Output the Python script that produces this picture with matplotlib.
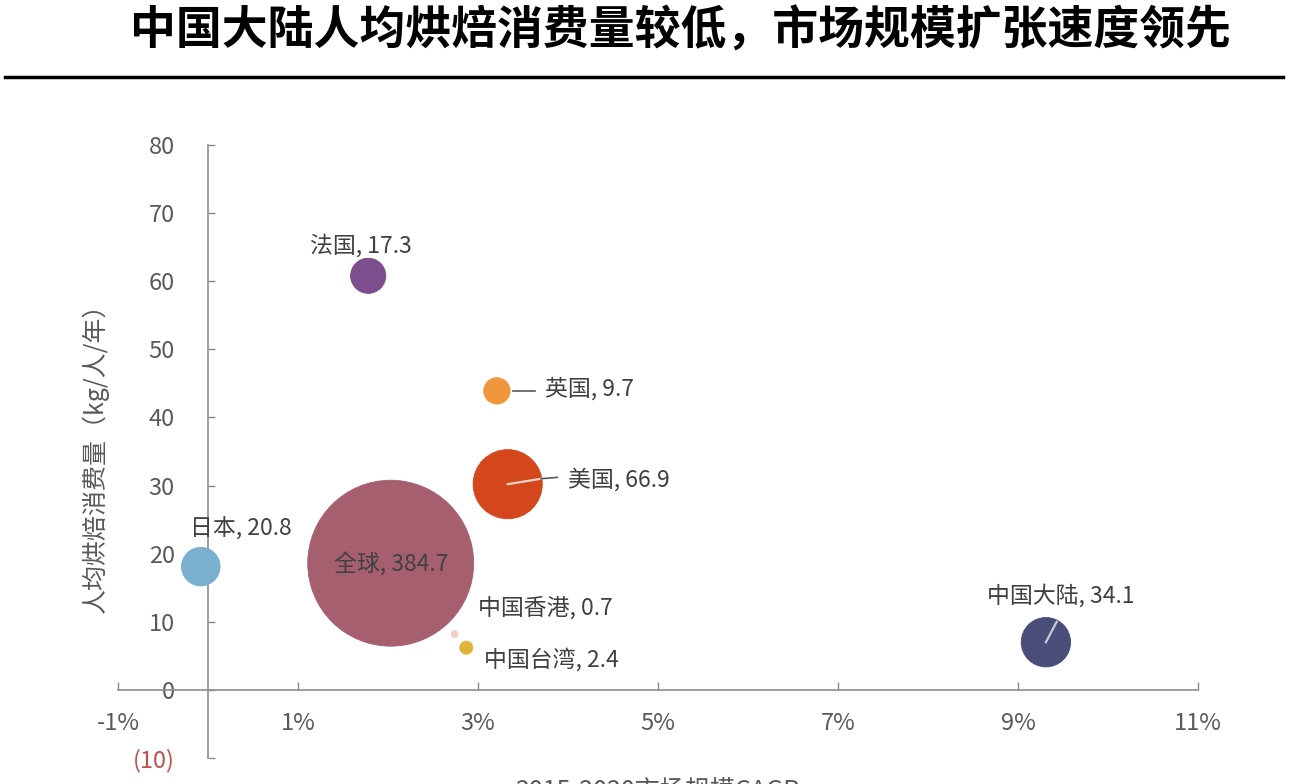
import matplotlib
matplotlib.use('Agg')
import matplotlib.pyplot as plt
from matplotlib.lines import Line2D
import numpy as np

plt.rcParams['font.family'] = ['Liberation Sans Narrow', 'Noto Sans CJK SC', 'DejaVu Sans']

# data: market CAGR 2015-2020 (%), per-capita consumption (kg/person/year), market size (bubble)
regions = ['法国', '英国', '美国', '全球', '日本', '中国香港', '中国台湾', '中国大陆']
cagr = [1.78, 3.21, 3.33, 2.03, -0.08, 2.74, 2.87, 9.31]
per_capita = [60.8, 43.9, 30.2, 18.6, 18.1, 8.2, 6.2, 7.0]
market_size = [17.3, 9.7, 66.9, 384.7, 20.8, 0.7, 2.4, 34.1]
colors = ['#7b4e8d', '#f0963c', '#d4461c', '#a65f6f', '#7aafd0', '#f2d0c6', '#e0b43a', '#4a4d78']

x_ticks = [-1, 1, 3, 5, 7, 9, 11]
y_ticks = [-10, 0, 10, 20, 30, 40, 50, 60, 70, 80]

# label anchors (data coords) and alignment
label_pos = [(1.70, 65.2, 'center'), (3.74, 44.2, 'left'), (4.0, 30.8, 'left'),
             (2.04, 18.35, 'center'), (0.36, 23.8, 'center'), (3.0, 12.0, 'left'),
             (3.07, 4.4, 'left'), (9.47, 13.9, 'center')]

W, H = 1300, 784
fig = plt.figure(figsize=(13, 7.84), dpi=100)
ax = fig.add_axes([118 / W, 26 / H, 1080 / W, 613 / H])

size_scale = 37.1
ax.scatter(cagr, per_capita, s=np.array(market_size) * size_scale, c=colors,
           edgecolors=colors, linewidths=0.6, zorder=3)

gray = '#404040'
for i, name in enumerate(regions):
    lx, ly, ha = label_pos[i]
    ax.text(lx, ly, f'{name}, {market_size[i]}', ha=ha, va='center', fontsize=16.5,
            color=gray, zorder=5)

# leader lines
ax.plot([3.39, 3.63], [43.9, 43.9], color='#595959', lw=1.2, zorder=4)
ax.plot([3.33, 3.70], [30.2, 31.0], color='#f3d3c3', lw=1.6, zorder=4)
ax.plot([3.70, 3.88], [31.0, 31.2], color='#595959', lw=1.2, zorder=4)
ax.plot([9.31, 9.43], [7.0, 10.0], color='#c8c8d8', lw=1.6, zorder=4)

ax.set_xlim(-1, 11)
ax.set_ylim(-10, 80)
for s in ['top', 'right']:
    ax.spines[s].set_visible(False)
ax.spines['left'].set_position(('data', 0))
ax.spines['bottom'].set_position(('data', 0))
for s in ['left', 'bottom']:
    ax.spines[s].set_color('#8c8c8c')
    ax.spines[s].set_linewidth(1.2)

ax.set_xticks(x_ticks)
ax.set_xticklabels([f'{v}%' for v in x_ticks])
ax.set_yticks(y_ticks)
ax.set_yticklabels([f'({-v})' if v < 0 else str(v) for v in y_ticks])
ax.tick_params(axis='x', direction='in', length=6, width=1, color='#8c8c8c',
               labelsize=17, labelcolor='#595959', pad=16)
ax.tick_params(axis='y', direction='in', length=5, width=1, color='#8c8c8c',
               labelsize=17, labelcolor='#595959', pad=24)
ax.get_yticklabels()[0].set_color('#c0504d')
ax.patch.set_alpha(0)

fig.text(95 / W, 1 - 452 / H, '人均烘焙消费量（kg/人/年）', rotation=90, ha='center', va='center',
         fontsize=18, color='#595959')
fig.text(658 / W, 1 - 792 / H, '2015-2020市场规模CAGR', ha='center', va='center',
         fontsize=18, color='#595959')

fig.text(681 / W, 1 - 32 / H, '中国大陆人均烘焙消费量较低，市场规模扩张速度领先',
         ha='center', va='center', fontsize=33, fontweight='bold', color='black',
         family=['Noto Sans CJK SC'])
fig.add_artist(Line2D([5 / W, 1283 / W], [1 - 77 / H, 1 - 77 / H], color='black', lw=2.5,
                      transform=fig.transFigure))

fig.savefig('out.png', dpi=100, facecolor='white')
